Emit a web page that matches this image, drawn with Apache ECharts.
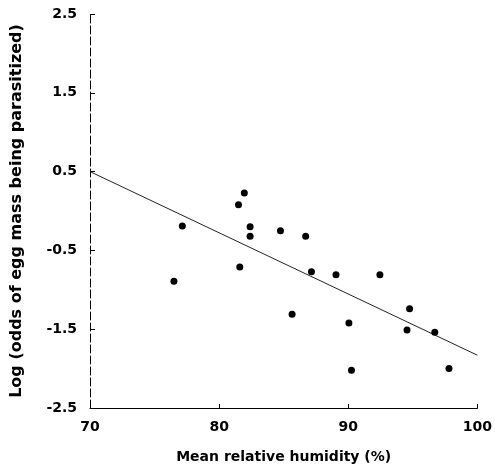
<!DOCTYPE html>
<html>
<head>
<meta charset="utf-8">
<script src="https://cdn.jsdelivr.net/npm/echarts@6/dist/echarts.min.js"></script>
<style>
html,body{margin:0;padding:0;background:#fff;}
#chart{width:495px;height:472px;}
</style>
</head>
<body>
<div id="chart"></div>
<script>
const humidity = [76.5, 77.15, 81.5, 81.95, 82.4, 82.4, 81.6, 84.75, 86.7, 87.15, 85.65, 89.05, 92.45, 90.05, 90.25, 94.75, 94.55, 96.7, 97.8];
const logOdds  = [-0.89, -0.19, 0.08, 0.23, -0.20, -0.32, -0.71, -0.25, -0.32, -0.77, -1.31, -0.81, -0.81, -1.42, -2.02, -1.24, -1.51, -1.54, -2.00];
const fitX = [70, 100];
const fitY = [0.5, -1.83];
const xTicks = [70, 80, 90, 100];
const yTicks = [-2.5, -1.5, -0.5, 0.5, 1.5, 2.5];

const points = humidity.map((h, i) => [h, logOdds[i]]);
const fitLine = fitX.map((x, i) => [x, fitY[i]]);
const font = 'DejaVu Sans';

const chart = echarts.init(document.getElementById('chart'), null, {renderer: 'canvas'});
chart.setOption({
  animation: false,
  backgroundColor: '#fff',
  grid: {left: 90, right: 16, top: 14, bottom: 64},
  xAxis: {
    type: 'value',
    min: xTicks[0], max: xTicks[xTicks.length - 1], interval: 10,
    name: 'Mean relative humidity (%)',
    nameLocation: 'middle', nameGap: 42,
    nameTextStyle: {fontFamily: font, fontWeight: 'bold', fontSize: 14, color: '#000'},
    axisLine: {onZero: false, lineStyle: {color: '#000', width: 1}},
    axisTick: {inside: true, length: 4, lineStyle: {color: '#000'}},
    axisLabel: {margin: 12, fontFamily: font, fontWeight: 'bold', fontSize: 14, color: '#000'},
    splitLine: {show: false}
  },
  yAxis: {
    type: 'value',
    min: yTicks[0], max: yTicks[yTicks.length - 1], interval: 1,
    name: 'Log (odds of egg mass being parasitized)',
    nameLocation: 'middle', nameGap: 65, nameRotate: 90,
    nameTextStyle: {fontFamily: font, fontWeight: 'bold', fontSize: 16, color: '#000'},
    axisLine: {show: true, onZero: false, lineStyle: {color: '#000', width: 1, type: [8, 3]}},
    axisTick: {show: true, inside: true, length: 5, lineStyle: {color: '#000'}},
    axisLabel: {margin: 13, fontFamily: font, fontWeight: 'bold', fontSize: 14, color: '#000',
      formatter: v => v.toFixed(1)},
    splitLine: {show: false}
  },
  series: [
    {
      type: 'line', data: fitLine, showSymbol: false, symbol: 'none',
      lineStyle: {color: '#222', width: 1}, silent: true, z: 1
    },
    {
      type: 'scatter', data: points, symbol: 'circle', symbolSize: 7,
      itemStyle: {color: '#000', opacity: 1}, z: 2
    }
  ]
});
</script>
</body>
</html>
